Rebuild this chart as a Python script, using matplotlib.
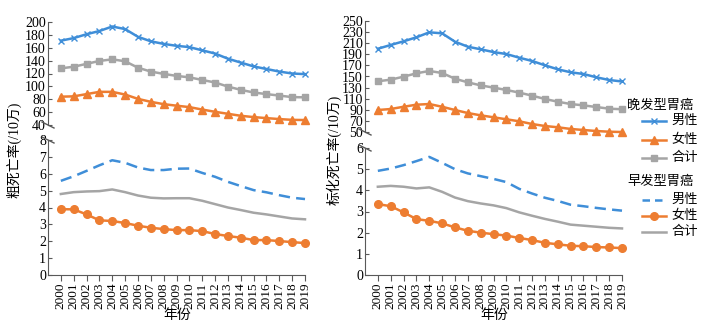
import matplotlib
matplotlib.use("Agg")
import matplotlib.pyplot as plt
from matplotlib.lines import Line2D

plt.rcParams['font.family'] = ['Liberation Serif', 'Noto Sans CJK SC']

years = list(range(2000, 2020))
year_labels = [str(y) for y in years]

# Crude mortality (/10万), late-onset
crude_late_male = [171, 175, 181, 186, 193, 189, 177, 170, 166, 163, 161, 156, 151, 143, 137, 131, 127, 123, 120, 119]
crude_late_female = [84, 84.5, 88, 91.5, 91.5, 87.3, 80.6, 76, 72.4, 70, 67.8, 64, 60.5, 57.4, 54.3, 52.3, 50.7, 49.2, 48, 47.7]
crude_late_total = [128, 130.5, 135, 139.5, 142, 139, 129, 123, 119.4, 116.3, 114, 110, 106, 99.7, 94.6, 90.5, 88, 85.7, 83.3, 83]
# Crude mortality, early-onset
crude_early_male = [5.58, 5.85, 6.17, 6.5, 6.8, 6.65, 6.37, 6.22, 6.22, 6.3, 6.31, 6.05, 5.82, 5.52, 5.27, 5.03, 4.9, 4.73, 4.58, 4.5]
crude_early_female = [3.9, 3.89, 3.59, 3.24, 3.2, 3.08, 2.92, 2.8, 2.72, 2.66, 2.66, 2.6, 2.43, 2.31, 2.21, 2.07, 2.07, 2.01, 1.95, 1.89]
crude_early_total = [4.8, 4.91, 4.95, 4.97, 5.07, 4.91, 4.71, 4.58, 4.54, 4.55, 4.55, 4.4, 4.2, 4.0, 3.85, 3.69, 3.59, 3.47, 3.35, 3.3]

# Standardized mortality (/10万), late-onset
std_late_male = [200, 206.8, 213.4, 220.6, 229.6, 227.8, 212.7, 203.7, 199, 194, 190.5, 183.9, 178, 170.2, 163, 157.6, 154.5, 148.6, 143.7, 141]
std_late_female = [89.6, 91.4, 95.5, 99.2, 100.4, 95.5, 89.6, 84.2, 80, 76.5, 72.9, 69.3, 64.4, 60.8, 58.5, 55.5, 53.6, 51.8, 50.5, 50]
std_late_total = [141.4, 144.3, 149.7, 155.7, 160, 156.3, 146, 139.5, 134, 130, 125.7, 121, 115.5, 109.5, 104.6, 100.4, 98, 95, 92, 91]
# Standardized mortality, early-onset
std_early_male = [4.92, 5.03, 5.19, 5.38, 5.58, 5.3, 5.0, 4.8, 4.67, 4.54, 4.39, 4.07, 3.85, 3.65, 3.5, 3.32, 3.25, 3.17, 3.1, 3.04]
std_early_female = [3.35, 3.25, 2.96, 2.64, 2.56, 2.44, 2.25, 2.09, 2.0, 1.93, 1.86, 1.75, 1.65, 1.52, 1.45, 1.38, 1.36, 1.32, 1.3, 1.27]
std_early_total = [4.17, 4.21, 4.17, 4.09, 4.14, 3.93, 3.66, 3.49, 3.38, 3.29, 3.16, 2.96, 2.8, 2.65, 2.52, 2.38, 2.33, 2.28, 2.23, 2.2]

legend_titles = ['晚发型胃癌', '早发型胃癌']
legend_names = ['男性', '女性', '合计']
ylabels = ['粗死亡率(/10万)', '标化死亡率(/10万)']
xlabel = '年份'

BLUE = '#3F8ED8'
ORANGE = '#ED7D31'
GRAY = '#A5A5A5'
AX = '#595959'

W, H = 706, 324
fig = plt.figure(figsize=(W / 100, H / 100), dpi=100)


def fx(px):
    return px / W


def fy(px):
    return 1 - px / H


def make_axes(x0, x1, ytop, ybot):
    return fig.add_axes([fx(x0), fy(ybot), fx(x1) - fx(x0), fy(ytop) - fy(ybot)])


panels = [
    dict(x0=48, x1=305, top=(22, 125), bot=(140, 275), tlim=(40, 200), tstep=20, blim=(0, 8),
         late=(crude_late_male, crude_late_female, crude_late_total),
         early=(crude_early_male, crude_early_female, crude_early_total), ylab=ylabels[0], ylx=14),
    dict(x0=365, x1=622, top=(21, 132), bot=(148, 275), tlim=(50, 250), tstep=20, blim=(0, 6),
         late=(std_late_male, std_late_female, std_late_total),
         early=(std_early_male, std_early_female, std_early_total), ylab=ylabels[1], ylx=334),
]

for p in panels:
    axt = make_axes(p['x0'], p['x1'], *p['top'])
    axb = make_axes(p['x0'], p['x1'], *p['bot'])
    m, f, t = p['late']
    axt.plot(years, m, color=BLUE, lw=1.8, marker='x', ms=4.5, mew=1.0, clip_on=False)
    axt.plot(years, f, color=ORANGE, lw=1.8, marker='^', ms=5.5, clip_on=False)
    axt.plot(years, t, color=GRAY, lw=1.8, marker='s', ms=5, clip_on=False)
    m, f, t = p['early']
    axb.plot(years, m, color=BLUE, lw=1.8, ls=(0, (4.5, 2.5)), clip_on=False)
    axb.plot(years, f, color=ORANGE, lw=1.8, marker='o', ms=5.5, clip_on=False)
    axb.plot(years, t, color=GRAY, lw=1.8, clip_on=False)

    for ax in (axt, axb):
        ax.set_xlim(1999, 2019)
        ax.set_facecolor('none')
        for s in ('top', 'right'):
            ax.spines[s].set_visible(False)
        ax.spines['left'].set_color(AX)
        ax.spines['bottom'].set_color(AX)
        ax.tick_params(axis='y', direction='in', length=3, color=AX, labelsize=10, pad=1.5)
    lo, hi = p['tlim']
    axt.set_ylim(lo, hi)
    axt.set_yticks(range(lo, hi + 1, p['tstep']))
    axt.spines['bottom'].set_visible(False)
    axt.set_xticks([])
    blo, bhi = p['blim']
    axb.set_ylim(blo, bhi)
    axb.set_yticks(range(blo, bhi + 1))
    axb.set_xticks(years)
    axb.set_xticklabels(year_labels, rotation=90, fontsize=9.5)
    axb.tick_params(axis='x', direction='out', length=4, color=AX, pad=1.5)

    # break marks
    for yy in (p['top'][1], p['bot'][0]):
        xa = p['x0']
        fig.add_artist(Line2D([fx(xa - 6), fx(xa + 6)], [fy(yy - 3), fy(yy + 3)],
                              color=AX, lw=1.0, transform=fig.transFigure))

    fig.text(fx(p['ylx']), fy(150), p['ylab'], rotation=90, ha='center', va='center', fontsize=10)
    fig.text(fx((p['x0'] + p['x1']) / 2 + 1), fy(315), xlabel, ha='center', va='center', fontsize=10)

# legend drawn manually
entries = [
    (legend_titles[0], 105, [(121, dict(color=BLUE, marker='x', ms=4.5, mew=1.0)),
                             (140, dict(color=ORANGE, marker='^', ms=5.5)),
                             (158, dict(color=GRAY, marker='s', ms=5))]),
    (legend_titles[1], 182, [(200, dict(color=BLUE, ls=(0, (3, 2)))),
                             (216, dict(color=ORANGE, marker='o', ms=5.5)),
                             (232, dict(color=GRAY))]),
]
for title, ty, rows in entries:
    fig.text(fx(627), fy(ty), title, ha='left', va='center', fontsize=9.5)
    for (yy, style), name in zip(rows, legend_names):
        kw = dict(lw=1.8, transform=fig.transFigure)
        marker = style.pop('marker', None)
        ms = style.pop('ms', None)
        mew = style.pop('mew', None)
        fig.add_artist(Line2D([fx(642), fx(666)], [fy(yy), fy(yy)], **kw, **style))
        if marker:
            mk = dict(marker=marker, ms=ms, color=style['color'], transform=fig.transFigure, ls='none')
            if mew:
                mk['mew'] = mew
            fig.add_artist(Line2D([fx(654)], [fy(yy)], **mk))
        fig.text(fx(671), fy(yy), name, ha='left', va='center', fontsize=9.5)

fig.savefig('out.png', dpi=100)
